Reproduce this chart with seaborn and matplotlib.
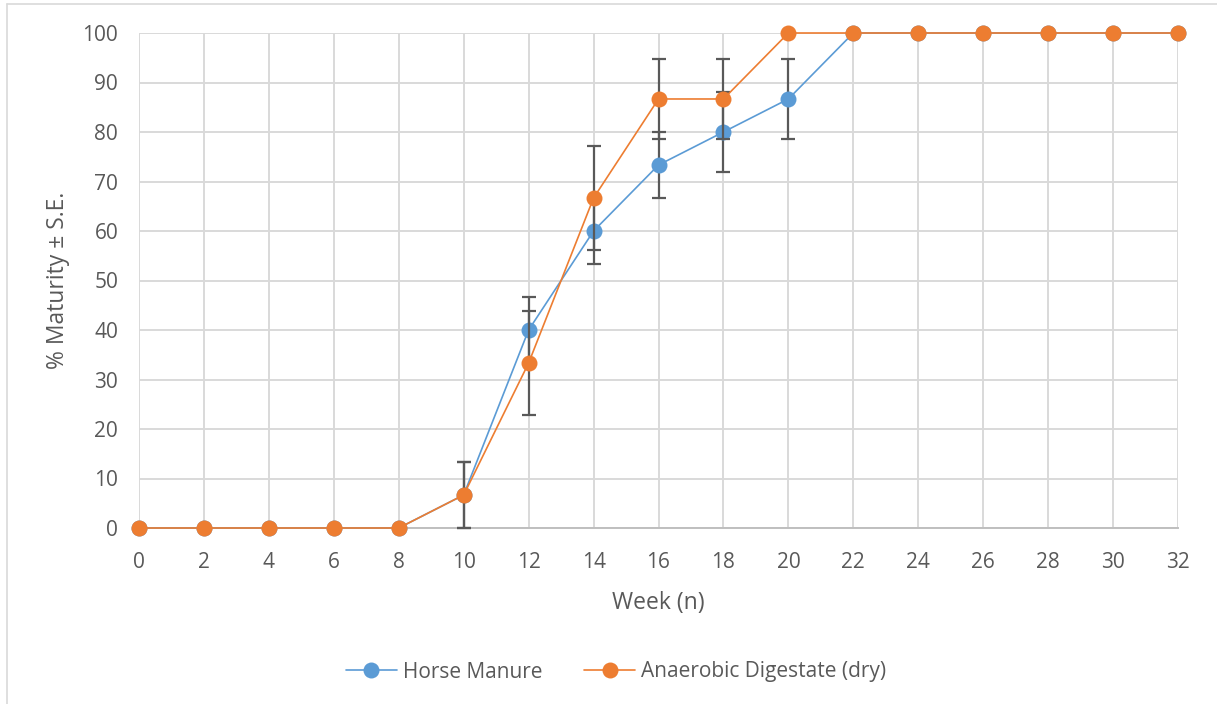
import matplotlib
matplotlib.use("Agg")
import matplotlib.pyplot as plt
import seaborn as sns
import pandas as pd
from matplotlib.lines import Line2D

weeks = [0, 2, 4, 6, 8, 10, 12, 14, 16, 18, 20, 22, 24, 26, 28, 30, 32]
horse_manure = [0, 0, 0, 0, 0, 6.67, 40, 60, 73.33, 80, 86.67, 100, 100, 100, 100, 100, 100]
horse_manure_se = [0, 0, 0, 0, 0, 6.67, 6.67, 6.67, 6.67, 8.16, 8.16, 0, 0, 0, 0, 0, 0]
digestate = [0, 0, 0, 0, 0, 6.67, 33.33, 66.67, 86.67, 86.67, 100, 100, 100, 100, 100, 100, 100]
digestate_se = [0, 0, 0, 0, 0, 6.67, 10.54, 10.54, 8.16, 8.16, 0, 0, 0, 0, 0, 0, 0]
series_names = ["Horse Manure", "Anaerobic Digestate (dry)"]
colors = ["#5B9BD5", "#ED7D31"]
y_ticks = list(range(0, 101, 10))
x_ticks = weeks

sns.set_theme(style="white")
plt.rcParams["font.family"] = ["Open Sans", "DejaVu Sans"]

df = pd.DataFrame({
    "Week": weeks * 2,
    "Value": horse_manure + digestate,
    "Series": [series_names[0]] * len(weeks) + [series_names[1]] * len(weeks),
})

fig = plt.figure(figsize=(12.17, 7.04), dpi=100)
ax = fig.add_axes([139 / 1217, 1 - 528 / 704, (1178 - 139) / 1217, (528 - 33) / 704])

txt_color = "#595959"
grid_color = "#D9D9D9"

for i, (vals, se) in enumerate([(horse_manure, horse_manure_se), (digestate, digestate_se)]):
    ax.errorbar(weeks, vals, yerr=se, fmt="none", ecolor="#595959", elinewidth=1.6,
                capsize=5, capthick=1.6, zorder=3 + 2 * i, clip_on=False)

sns.lineplot(data=df, x="Week", y="Value", hue="Series", palette=colors,
             marker="o", markersize=11.5, markeredgewidth=0, linewidth=1.2,
             ax=ax, legend=False, zorder=4)

for line in ax.get_lines():
    line.set_clip_on(False)
if ax.get_lines():
    ax.get_lines()[-1].set_zorder(6)

ax.set_xlim(0, 32)
ax.set_ylim(0, 100)
ax.set_xticks(x_ticks)
ax.set_yticks(y_ticks)
ax.grid(True, color=grid_color, linewidth=1.4)
ax.set_axisbelow(True)
for s in ["top", "right", "left"]:
    ax.spines[s].set_visible(False)
ax.spines["bottom"].set_color("#BFBFBF")
ax.spines["bottom"].set_linewidth(1.4)
ax.tick_params(axis="x", length=0, labelsize=15, colors=txt_color, pad=17)
ax.tick_params(axis="y", length=0, labelsize=15, colors=txt_color, pad=15)
ax.set_xlabel("Week (n)", fontsize=16.5, color=txt_color, labelpad=13)
ax.set_ylabel("% Maturity ± S.E.", fontsize=16.5, color=txt_color, labelpad=9)

handles = [Line2D([0], [0], color=c, marker="o", markersize=11.5, markeredgewidth=0, linewidth=1.2)
           for c in colors]
fig.legend(handles, series_names, loc="center", bbox_to_anchor=(616 / 1217, 1 - 672 / 704),
           ncol=2, frameon=False, fontsize=15, labelcolor=txt_color, handlelength=2.45,
           columnspacing=2.0, handletextpad=0.3)

fig.add_artist(Line2D([7 / 1217, 7 / 1217], [0, 1 - 4 / 704], color="#D9D9D9", linewidth=1.2,
                      transform=fig.transFigure))
fig.add_artist(Line2D([7 / 1217, 1], [1 - 4 / 704, 1 - 4 / 704], color="#D9D9D9", linewidth=1.2,
                      transform=fig.transFigure))

fig.savefig("out.png", dpi=100, facecolor="white")
